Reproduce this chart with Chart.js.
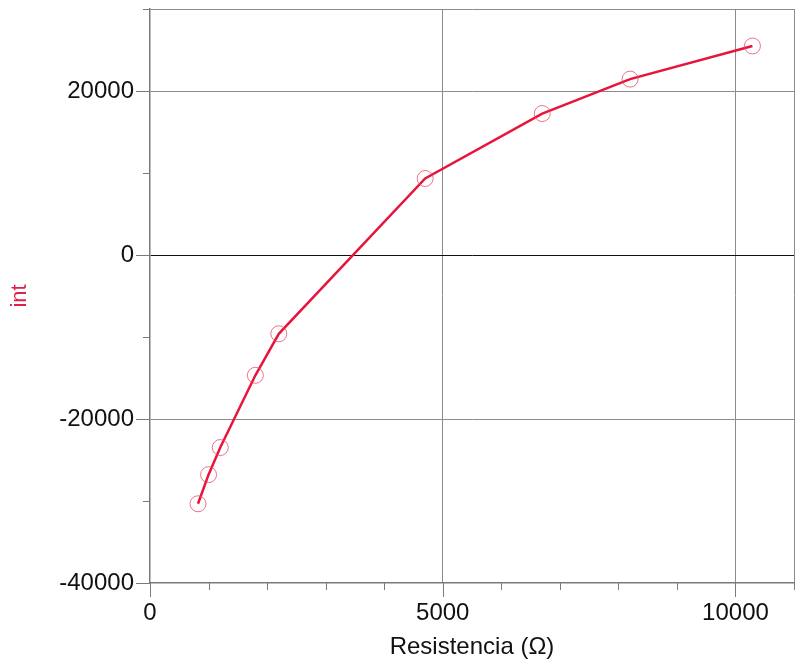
<!DOCTYPE html>
<html>
<head>
<meta charset="utf-8">
<script src="https://cdn.jsdelivr.net/npm/chart.js@4/dist/chart.umd.min.js"></script>
<style>
  html, body { margin: 0; padding: 0; background: #fff; }
  #chartBox { width: 803px; height: 666px; }
</style>
</head>
<body>
<div id="chartBox"><canvas id="intChart" width="803" height="666"></canvas></div>
<script>
// data
var resistencias = [820, 1000, 1200, 1800, 2200, 4700, 6700, 8200, 10290];
var intValues = [-30340, -26790, -23480, -14670, -9610, 9330, 17250, 21450, 25490];

var xLabelTicks = [0, 5000, 10000];
var yLabelTicks = [-40000, -20000, 0, 20000];

var fontFamily = '"Liberation Sans", Arial, sans-serif';
var gridGrey = '#8c8c8c';

function buildPoints() {
    var pts = [];
    for (var i = 0; i < resistencias.length; i++) {
        pts.push({ x: resistencias[i], y: intValues[i] });
    }
    return pts;
}

// tick marks: long on labelled values, short on the others
var tickMarksPlugin = {
    id: 'tickMarks',
    afterDraw: function (chart) {
        var ctx = chart.ctx;
        var xs = chart.scales.x;
        var ys = chart.scales.y;
        var area = chart.chartArea;
        ctx.save();
        ctx.strokeStyle = '#7a7a7a';
        ctx.lineWidth = 1;
        xs.ticks.forEach(function (t) {
            var px = Math.round(xs.getPixelForValue(t.value)) + 0.5;
            var len = xLabelTicks.indexOf(t.value) >= 0 ? 14 : 7;
            ctx.beginPath();
            ctx.moveTo(px, area.bottom);
            ctx.lineTo(px, area.bottom + len);
            ctx.stroke();
        });
        ys.ticks.forEach(function (t) {
            var py = Math.round(ys.getPixelForValue(t.value)) + 0.5;
            var len = yLabelTicks.indexOf(t.value) >= 0 ? 14 : 7;
            ctx.beginPath();
            ctx.moveTo(area.left - len, py);
            ctx.lineTo(area.left, py);
            ctx.stroke();
        });
        ctx.restore();
    }
};

function noScalePadding(scale) {
    scale.paddingTop = 0;
    scale.paddingBottom = 0;
    scale.paddingLeft = 0;
    scale.paddingRight = 0;
}

var chartData = {
    datasets: [{
        label: 'int',
        data: buildPoints(),
        showLine: true,
        borderColor: '#e8143c',
        borderWidth: 2.5,
        pointStyle: 'circle',
        pointRadius: 8,
        pointBorderWidth: 1,
        pointBorderColor: 'rgba(230,70,100,0.75)',
        pointBackgroundColor: 'rgba(0,0,0,0)',
        tension: 0
    }]
};

var chartOptions = {
    responsive: false,
    animation: false,
    layout: { padding: { top: 6, right: 9, left: 0, bottom: 0 } },
    plugins: {
        legend: { display: false },
        tooltip: { enabled: false }
    },
    scales: {
        x: {
            type: 'linear',
            min: 0,
            max: 11000,
            afterFit: function (scale) { scale.height = 83; noScalePadding(scale); },
            border: { display: true, color: '#7a7a7a', width: 1.5 },
            grid: {
                drawTicks: false,
                lineWidth: 1,
                color: function (c) {
                    var v = c.tick.value;
                    if (v === 5000 || v === 10000 || v === 11000) return gridGrey;
                    return 'rgba(0,0,0,0)';
                }
            },
            ticks: {
                stepSize: 1000,
                autoSkip: false,
                maxRotation: 0,
                padding: 16,
                color: '#111',
                font: { family: fontFamily, size: 24 },
                callback: function (v) { return xLabelTicks.indexOf(v) >= 0 ? String(v) : ''; }
            },
            title: {
                display: true,
                text: 'Resistencia (\u03A9)',
                color: '#111',
                font: { family: fontFamily, size: 24 },
                padding: { top: 0, bottom: 4 }
            }
        },
        y: {
            type: 'linear',
            min: -40000,
            max: 30000,
            afterFit: function (scale) { scale.width = 150; noScalePadding(scale); },
            border: { display: true, color: '#7a7a7a', width: 1.5 },
            grid: {
                drawTicks: false,
                lineWidth: 1,
                color: function (c) {
                    var v = c.tick.value;
                    if (v === 0) return '#111';
                    if (v === 20000 || v === -20000 || v === 30000) return gridGrey;
                    return 'rgba(0,0,0,0)';
                }
            },
            ticks: {
                stepSize: 10000,
                autoSkip: false,
                padding: 16,
                color: '#111',
                font: { family: fontFamily, size: 24 },
                callback: function (v) { return yLabelTicks.indexOf(v) >= 0 ? String(v) : ''; }
            },
            title: {
                display: true,
                text: 'int',
                color: '#e0204a',
                font: { family: fontFamily, size: 22 },
                padding: { top: 7, bottom: 0 }
            }
        }
    }
};

var intChartCtx = document.getElementById('intChart').getContext('2d');
var intChart = new Chart(intChartCtx, {
    type: 'scatter',
    data: chartData,
    options: chartOptions,
    plugins: [tickMarksPlugin]
});
</script>
</body>
</html>
